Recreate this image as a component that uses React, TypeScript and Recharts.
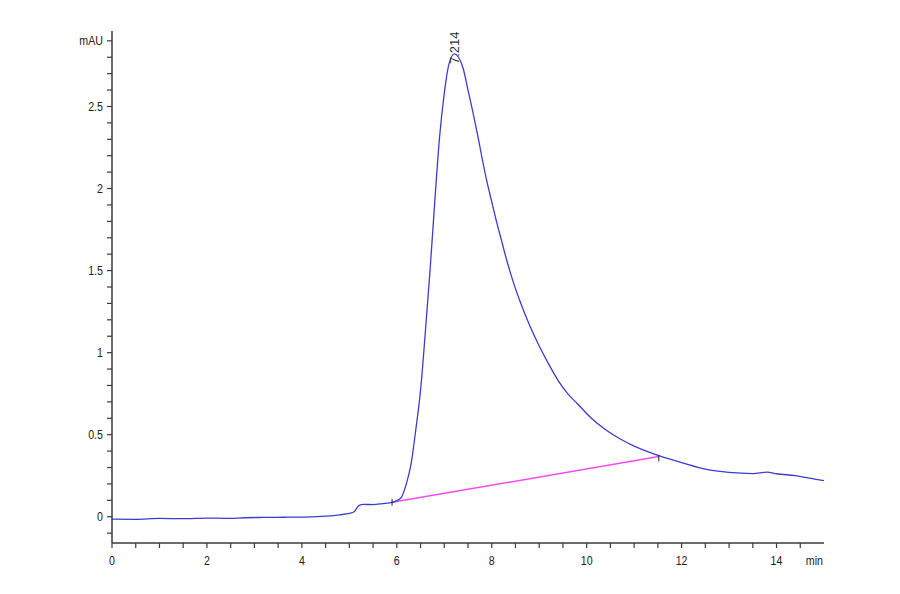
import React from 'react'
import { LineChart, Line, XAxis, YAxis, ReferenceLine, ReferenceDot } from 'recharts'

// retention time (min) and detector signal (mAU)
const times = [
  0, 0.5, 1.0, 1.5, 2.0, 2.4, 2.8, 3.2, 3.6, 4.0, 4.4, 4.8, 5.0, 5.1, 5.15, 5.2, 5.3, 5.5, 5.7, 5.9,
  6.0, 6.1, 6.2, 6.3, 6.4, 6.5, 6.6, 6.7, 6.8, 6.9, 7.0, 7.1, 7.214, 7.3, 7.4, 7.5, 7.6, 7.7, 7.8,
  7.9, 8.0, 8.1, 8.2, 8.3, 8.4, 8.5, 8.6, 8.7, 8.8, 9.0, 9.2, 9.4, 9.6, 9.8, 10.1, 10.4, 10.7, 11.0,
  11.3, 11.52, 12.0, 12.5, 13.0, 13.5, 13.8, 14.0, 14.4, 14.7, 15.0,
]
const signal = [
  -0.015, -0.016, -0.01, -0.012, -0.008, -0.01, -0.006, -0.004, -0.003, -0.002, 0.002, 0.012, 0.02,
  0.03, 0.05, 0.068, 0.075, 0.074, 0.08, 0.088, 0.098, 0.12, 0.2, 0.32, 0.53, 0.77, 1.12, 1.5, 1.92,
  2.31, 2.58, 2.76, 2.82, 2.8, 2.73, 2.6, 2.47, 2.33, 2.18, 2.04, 1.92, 1.8, 1.69, 1.58, 1.48, 1.39,
  1.31, 1.235, 1.165, 1.04, 0.93, 0.83, 0.75, 0.69, 0.6, 0.53, 0.475, 0.43, 0.395, 0.372, 0.33, 0.29,
  0.27, 0.263, 0.272, 0.262, 0.25, 0.235, 0.22,
]

const xTicks = [
  0, 0.5, 1, 1.5, 2, 2.5, 3, 3.5, 4, 4.5, 5, 5.5, 6, 6.5, 7, 7.5, 8, 8.5, 9, 9.5, 10, 10.5, 11,
  11.5, 12, 12.5, 13, 13.5, 14, 14.5, 15,
]
const yTicks = [
  -0.1, 0, 0.1, 0.2, 0.3, 0.4, 0.5, 0.6, 0.7, 0.8, 0.9, 1, 1.1, 1.2, 1.3, 1.4, 1.5, 1.6, 1.7, 1.8,
  1.9, 2, 2.1, 2.2, 2.3, 2.4, 2.5, 2.6, 2.7, 2.8, 2.9,
]
const xLabels = [0, 2, 4, 6, 8, 10, 12, 14]
const yLabels = [0, 0.5, 1, 1.5, 2, 2.5]

const peak = { t: 7.214, v: 2.82, label: '7.214' }
const baselineStart = { t: 5.9, v: 0.088 }
const baselineEnd = { t: 11.52, v: 0.367 }

const data = times.map((t, i) => ({ t, mAU: signal[i] }))

const font = "'Liberation Sans', Arial, sans-serif"
const axisColor = '#3a3a3a'

// the instrument prints its axis labels in a narrow face
function NarrowText({ x, y, anchor, children }: any) {
  return (
    <text
      transform={`translate(${x},${y}) scale(0.82,1)`}
      textAnchor={anchor}
      fontSize={13}
      fontFamily={font}
      fill="#222"
    >
      {children}
    </text>
  )
}

function XTick({ x, y, payload }: any) {
  const v = payload.value
  if (v === 15) {
    return (
      <NarrowText x={x - 1} y={y + 22} anchor="end">
        min
      </NarrowText>
    )
  }
  return (
    <g>
      <line x1={x} x2={x} y1={y} y2={y + 5} stroke={axisColor} strokeWidth={1.2} />
      {xLabels.includes(v) && (
        <NarrowText x={x} y={y + 22} anchor="middle">
          {v}
        </NarrowText>
      )}
    </g>
  )
}

function YTick({ x, y, payload }: any) {
  const v = Math.round(payload.value * 10) / 10
  let label = ''
  if (v === 2.9) label = 'mAU'
  else if (yLabels.includes(v)) label = String(v)
  return (
    <g>
      <line x1={x - 5} x2={x} y1={y} y2={y} stroke={axisColor} strokeWidth={1.2} />
      {label && (
        <NarrowText x={x - 9} y={y + 4.5} anchor="end">
          {label}
        </NarrowText>
      )}
    </g>
  )
}

function PeakLabel({ cx, cy }: any) {
  const px = cx + 5
  const py = cy + 10
  return (
    <text
      x={px}
      y={py}
      transform={`rotate(-90 ${px} ${py})`}
      fontSize={13}
      fontFamily={font}
      fill="#333"
    >
      {peak.label}
    </text>
  )
}

export default function App() {
  return (
    <div style={{ position: 'absolute', left: 0, top: 0, background: '#fff' }}>
      <LineChart width={900} height={594} data={data} margin={{ top: 31, right: 76, bottom: 21, left: 62 }}>
        <XAxis
          dataKey="t"
          type="number"
          domain={[0, 15]}
          ticks={xTicks}
          interval={0}
          tickSize={0}
          tickMargin={0}
          tickLine={false}
          tick={<XTick />}
          height={30}
          axisLine={{ stroke: axisColor, strokeWidth: 1.5 }}
        />
        <YAxis
          type="number"
          domain={[-0.16, 2.96]}
          ticks={yTicks}
          interval={0}
          tickSize={0}
          tickMargin={0}
          tickLine={false}
          tick={<YTick />}
          width={50}
          axisLine={{ stroke: axisColor, strokeWidth: 1.5 }}
        />
        <ReferenceLine
          segment={[
            { x: baselineStart.t, y: baselineStart.v },
            { x: baselineEnd.t, y: baselineEnd.v },
          ]}
          stroke="#f04cf0"
          strokeWidth={1.5}
        />
        <Line
          type="monotone"
          dataKey="mAU"
          stroke="#3c3cd2"
          strokeWidth={1.3}
          dot={false}
          isAnimationActive={false}
        />
        <ReferenceLine
          segment={[
            { x: baselineStart.t, y: baselineStart.v - 0.02 },
            { x: baselineStart.t, y: baselineStart.v + 0.02 },
          ]}
          stroke="#222"
          strokeWidth={1}
        />
        <ReferenceLine
          segment={[
            { x: baselineEnd.t, y: baselineEnd.v - 0.03 },
            { x: baselineEnd.t, y: baselineEnd.v + 0.01 },
          ]}
          stroke="#222"
          strokeWidth={1}
        />
        <ReferenceDot x={peak.t} y={peak.v} r={0} shape={<PeakLabel />} />
      </LineChart>
    </div>
  )
}
